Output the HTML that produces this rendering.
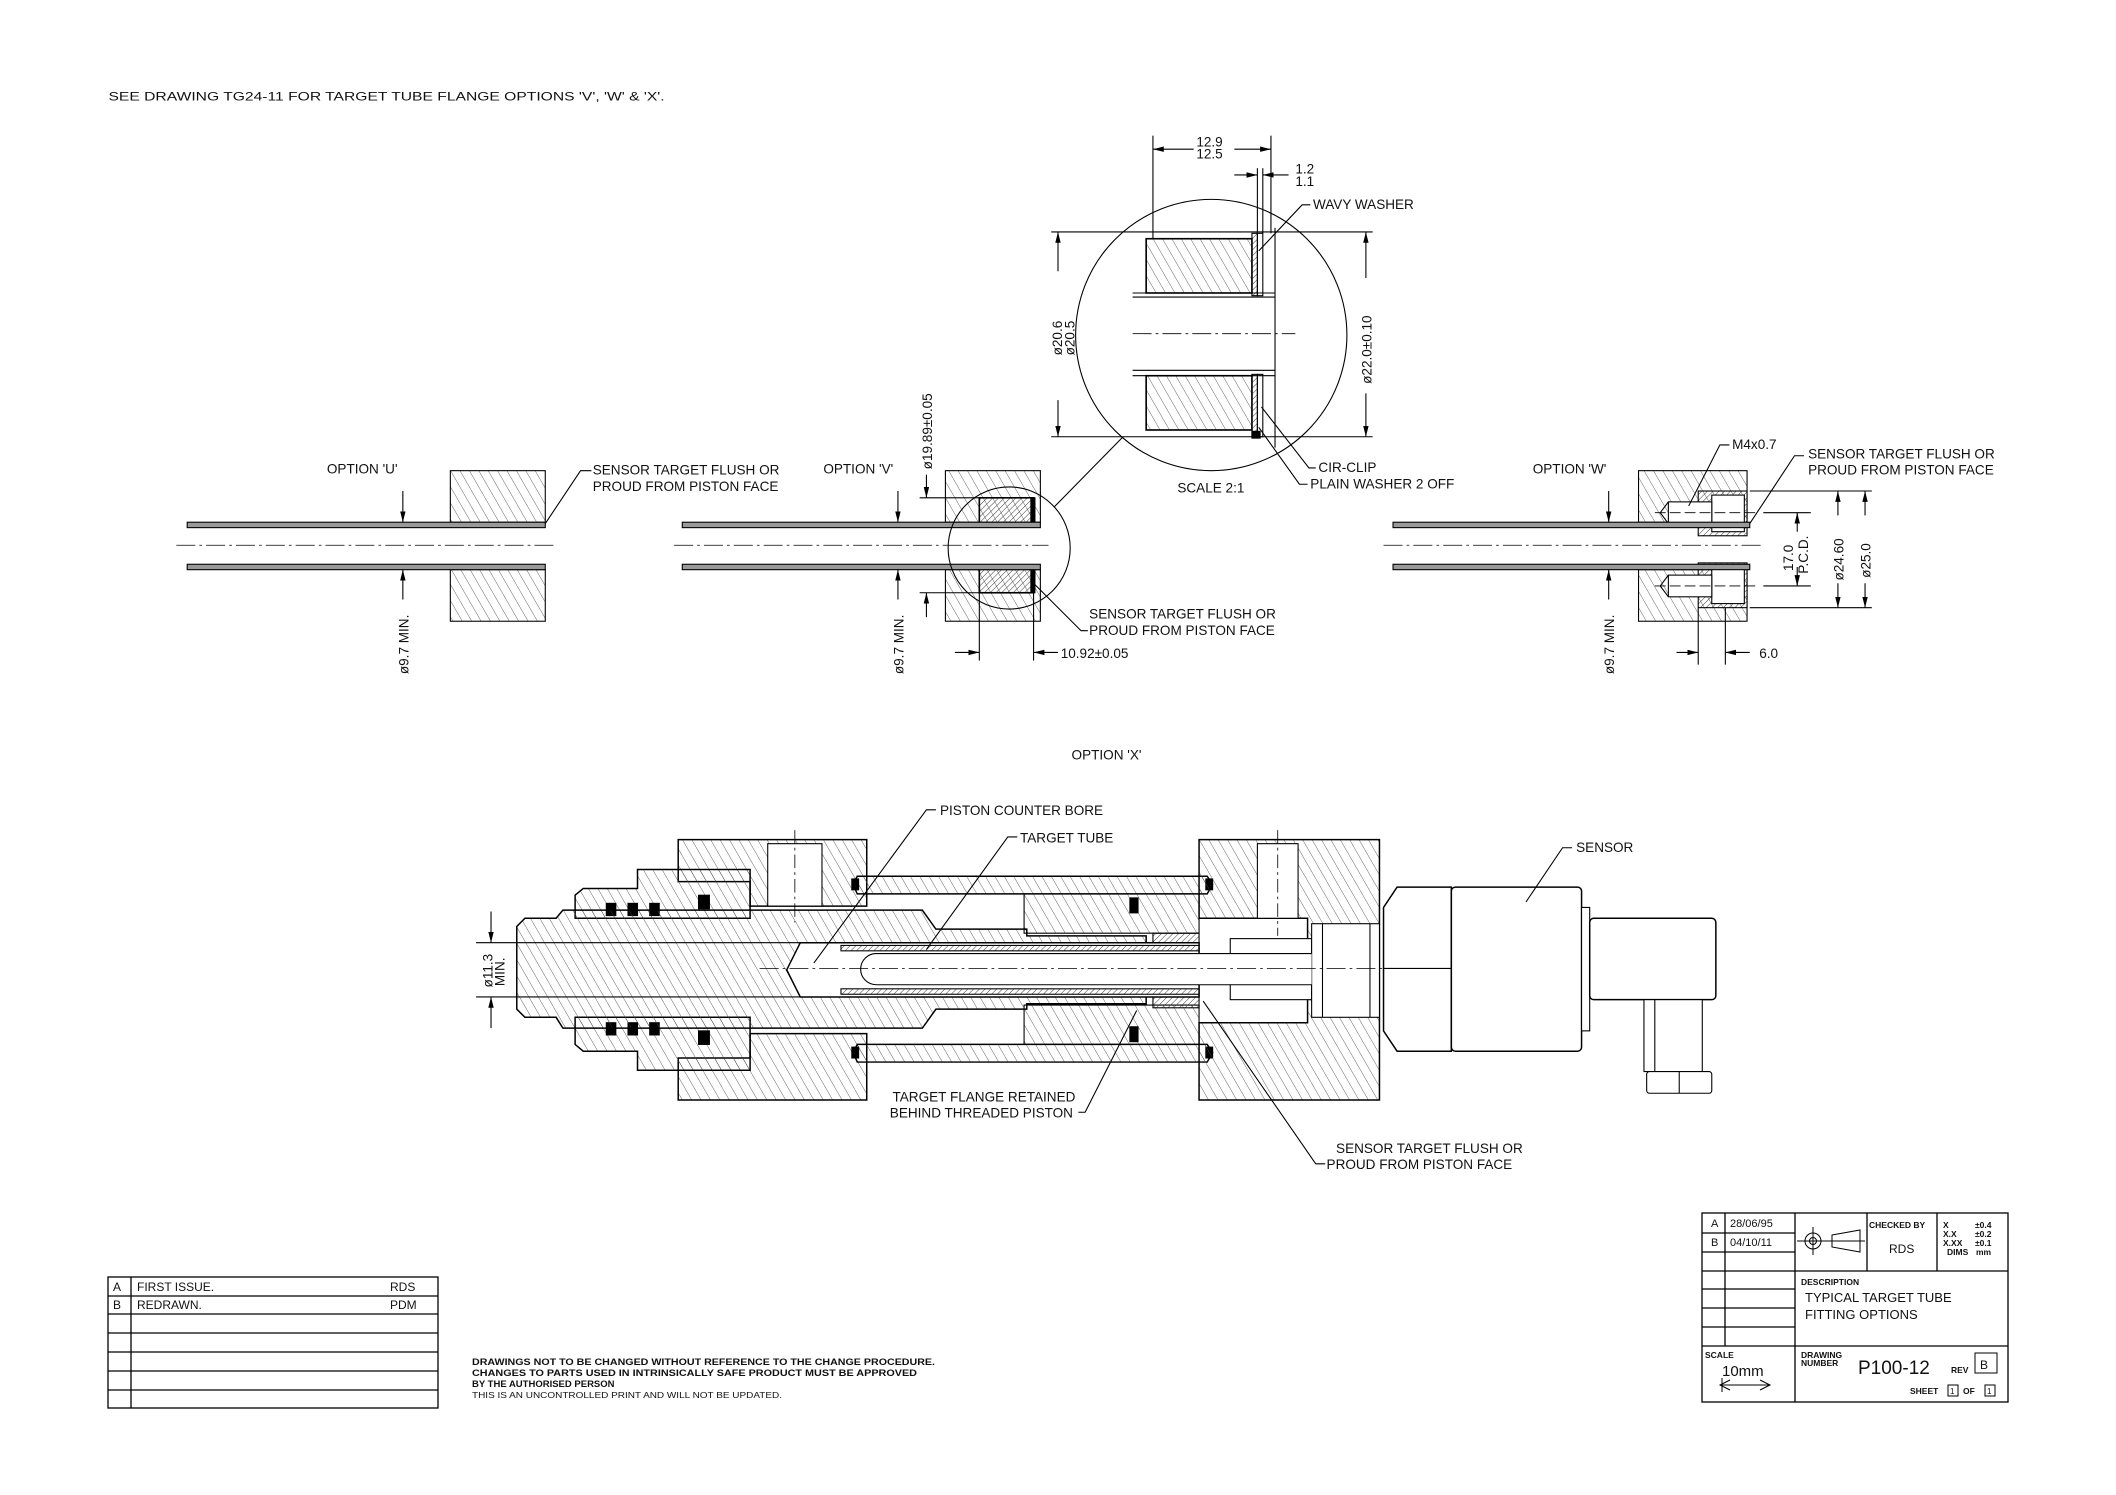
<!DOCTYPE html>
<html><head><meta charset="utf-8"><style>
html,body{margin:0;padding:0;background:#fff;}
svg{display:block;}
text{font-family:"Liberation Sans Narrow","Liberation Sans",sans-serif;fill:#111;}
</style></head><body>
<svg width="2116" height="1495" viewBox="0 0 2116 1495" xmlns="http://www.w3.org/2000/svg">
<defs>
<pattern id="h1" patternUnits="userSpaceOnUse" width="6" height="6" patternTransform="rotate(-30)"><line x1="0" y1="0" x2="0" y2="6" stroke="#444" stroke-width="0.6"/></pattern>
<pattern id="h2" patternUnits="userSpaceOnUse" width="3" height="3" patternTransform="rotate(45)"><line x1="0" y1="0" x2="0" y2="3" stroke="#333" stroke-width="0.7"/></pattern>
<marker id="ar" markerWidth="8" markerHeight="6" refX="8" refY="3" orient="auto" markerUnits="userSpaceOnUse"><path d="M0,1 L8,3 L0,5 z" fill="#000"/></marker>
</defs>
<rect width="2116" height="1495" fill="#fff"/>
<g transform="scale(1.3564)" stroke="#000" fill="none" stroke-width="0.8">
<text x="80" y="74" font-size="9" stroke="none" textLength="410" lengthAdjust="spacingAndGlyphs">SEE DRAWING TG24-11 FOR TARGET TUBE FLANGE OPTIONS 'V', 'W' &amp; 'X'.</text>

<!-- OPTION U -->
<g>
<rect x="332" y="347" width="70" height="38" fill="url(#h1)"/>
<rect x="332" y="420" width="70" height="38" fill="url(#h1)"/>
<rect x="138" y="385" width="264" height="4" fill="#999"/>
<rect x="138" y="416" width="264" height="4" fill="#999"/>
<line x1="130" y1="402" x2="408" y2="402" stroke-dasharray="14,3,2,3" stroke-width="0.6"/>
<line x1="297" y1="362" x2="297" y2="385" marker-end="url(#ar)"/>
<line x1="297" y1="442" x2="297" y2="420" marker-end="url(#ar)"/>
<polyline points="402,386 428,347 436,347"/>
<text x="241" y="349" font-size="10" stroke="none">OPTION 'U'</text>
<text x="437" y="350" font-size="10" stroke="none">SENSOR TARGET FLUSH OR</text>
<text x="437" y="362" font-size="10" stroke="none">PROUD FROM PISTON FACE</text>
<text transform="translate(301,497) rotate(-90)" font-size="10" stroke="none">ø9.7 MIN.</text>
</g>

<!-- OPTION V -->
<g>
<rect x="697" y="347" width="70" height="38" fill="url(#h1)"/>
<rect x="697" y="420" width="70" height="38" fill="url(#h1)"/>
<rect x="722" y="367" width="40" height="21" fill="url(#h2)" stroke-width="1.2"/>
<rect x="722" y="418" width="40" height="19" fill="url(#h2)" stroke-width="1.2"/>
<rect x="760" y="367" width="3" height="21" fill="#000"/>
<rect x="760" y="418" width="3" height="19" fill="#000"/>
<rect x="503" y="385" width="264" height="4" fill="#999"/>
<rect x="503" y="416" width="264" height="4" fill="#999"/>
<line x1="497" y1="402" x2="773" y2="402" stroke-dasharray="14,3,2,3" stroke-width="0.6"/>
<circle cx="744" cy="404" r="45"/>
<line x1="777" y1="374" x2="828" y2="322"/>
<line x1="662" y1="362" x2="662" y2="385" marker-end="url(#ar)"/>
<line x1="662" y1="442" x2="662" y2="420" marker-end="url(#ar)"/>
<text transform="translate(666,497) rotate(-90)" font-size="10" stroke="none">ø9.7 MIN.</text>
<line x1="678" y1="367" x2="722" y2="367"/>
<line x1="678" y1="437" x2="722" y2="437"/>
<line x1="683" y1="350" x2="683" y2="367" marker-end="url(#ar)"/>
<line x1="683" y1="455" x2="683" y2="437" marker-end="url(#ar)"/>
<text transform="translate(687,346) rotate(-90)" font-size="10" stroke="none">ø19.89±0.05</text>
<line x1="722" y1="437" x2="722" y2="487"/>
<line x1="762" y1="437" x2="762" y2="487"/>
<line x1="704" y1="481" x2="722" y2="481" marker-end="url(#ar)"/>
<line x1="780" y1="481" x2="762" y2="481" marker-end="url(#ar)"/>
<text x="782" y="485" font-size="10" stroke="none">10.92±0.05</text>
<polyline points="762,430 797,465 802,465"/>
<text x="607" y="349" font-size="10" stroke="none">OPTION 'V'</text>
<text x="803" y="456" font-size="10" stroke="none">SENSOR TARGET FLUSH OR</text>
<text x="803" y="468" font-size="10" stroke="none">PROUD FROM PISTON FACE</text>
</g>

<!-- DETAIL -->
<g>
<circle cx="893" cy="247" r="100"/>
<rect x="845" y="176" width="78" height="40" fill="url(#h1)" stroke-width="1.2"/>
<rect x="845" y="277" width="78" height="40" fill="url(#h1)" stroke-width="1.2"/>
<rect x="923" y="172" width="4" height="46" fill="url(#h2)"/>
<rect x="927" y="172" width="4" height="46" fill="none"/>
<rect x="923" y="276" width="4" height="46" fill="url(#h2)"/>
<rect x="927" y="276" width="4" height="46" fill="none"/>
<rect x="923" y="318" width="6" height="5" fill="#000"/>
<line x1="835" y1="216" x2="940" y2="216"/><line x1="835" y1="219" x2="940" y2="219"/>
<line x1="835" y1="273" x2="940" y2="273"/><line x1="835" y1="277" x2="940" y2="277"/>
<line x1="940" y1="168" x2="940" y2="330"/>
<line x1="835" y1="246" x2="955" y2="246" stroke-dasharray="14,3,2,3" stroke-width="0.6"/>
<line x1="775" y1="171" x2="1012" y2="171"/><line x1="775" y1="322" x2="1012" y2="322"/>
<line x1="780" y1="200" x2="780" y2="171" marker-end="url(#ar)"/>
<line x1="780" y1="295" x2="780" y2="322" marker-end="url(#ar)"/>
<text transform="translate(783,262) rotate(-90)" font-size="10" stroke="none">ø20.6</text>
<text transform="translate(792,262) rotate(-90)" font-size="10" stroke="none">ø20.5</text>
<line x1="1007" y1="205" x2="1007" y2="171" marker-end="url(#ar)"/>
<line x1="1007" y1="290" x2="1007" y2="322" marker-end="url(#ar)"/>
<text transform="translate(1011,283) rotate(-90)" font-size="10" stroke="none">ø22.0±0.10</text>
<line x1="850" y1="100" x2="850" y2="176"/>
<line x1="937" y1="100" x2="937" y2="172"/>
<line x1="880" y1="110" x2="850" y2="110" marker-end="url(#ar)"/>
<line x1="910" y1="110" x2="937" y2="110" marker-end="url(#ar)"/>
<text x="882" y="108" font-size="10" stroke="none">12.9</text>
<text x="882" y="117" font-size="10" stroke="none">12.5</text>
<line x1="927" y1="124" x2="927" y2="172"/><line x1="931" y1="124" x2="931" y2="172"/>
<line x1="910" y1="129" x2="927" y2="129" marker-end="url(#ar)"/>
<line x1="950" y1="129" x2="931" y2="129" marker-end="url(#ar)"/>
<text x="955" y="128" font-size="10" stroke="none">1.2</text>
<text x="955" y="137" font-size="10" stroke="none">1.1</text>
<polyline points="928,185 960,151 966,151"/>
<polyline points="930,300 965,345 970,345"/>
<polyline points="928,315 958,357 964,357"/>
<text x="968" y="154" font-size="10" stroke="none">WAVY WASHER</text>
<text x="972" y="348" font-size="10" stroke="none">CIR-CLIP</text>
<text x="966" y="360" font-size="10" stroke="none">PLAIN WASHER 2 OFF</text>
<text x="868" y="363" font-size="10" stroke="none">SCALE 2:1</text>
</g>

<!-- OPTION W -->
<g>
<rect x="1208" y="347" width="80" height="38" fill="url(#h1)"/>
<rect x="1208" y="420" width="80" height="38" fill="url(#h1)"/>
<rect x="1252" y="362" width="36" height="33" fill="url(#h2)"/>
<rect x="1252" y="415" width="36" height="33" fill="url(#h2)"/>
<rect x="1262" y="365" width="24" height="27" fill="#fff"/>
<rect x="1262" y="418" width="24" height="27" fill="#fff"/>
<rect x="1230" y="370" width="32" height="16" fill="#fff"/>
<rect x="1230" y="424" width="32" height="16" fill="#fff"/>
<path d="M1230,370 L1224,378 L1230,386"/><path d="M1230,424 L1224,432 L1230,440"/>
<line x1="1220" y1="378" x2="1295" y2="378" stroke-dasharray="8,3" stroke-width="0.6"/>
<line x1="1220" y1="432" x2="1295" y2="432" stroke-dasharray="8,3" stroke-width="0.6"/>
<rect x="1027" y="385" width="263" height="4" fill="#999"/>
<rect x="1027" y="416" width="263" height="4" fill="#999"/>
<line x1="1020" y1="402" x2="1300" y2="402" stroke-dasharray="14,3,2,3" stroke-width="0.6"/>
<line x1="1290" y1="362" x2="1380" y2="362"/><line x1="1290" y1="448" x2="1380" y2="448"/>
<line x1="1300" y1="378" x2="1335" y2="378"/><line x1="1300" y1="432" x2="1335" y2="432"/>
<line x1="1325" y1="392" x2="1325" y2="378" marker-end="url(#ar)"/>
<line x1="1325" y1="418" x2="1325" y2="432" marker-end="url(#ar)"/>
<text transform="translate(1322,421) rotate(-90)" font-size="10" stroke="none">17.0</text>
<text transform="translate(1333,423) rotate(-90)" font-size="10" stroke="none">P.C.D.</text>
<line x1="1355" y1="380" x2="1355" y2="362" marker-end="url(#ar)"/>
<line x1="1355" y1="430" x2="1355" y2="448" marker-end="url(#ar)"/>
<text transform="translate(1359,428) rotate(-90)" font-size="10" stroke="none">ø24.60</text>
<line x1="1375" y1="380" x2="1375" y2="362" marker-end="url(#ar)"/>
<line x1="1375" y1="430" x2="1375" y2="448" marker-end="url(#ar)"/>
<text transform="translate(1379,426) rotate(-90)" font-size="10" stroke="none">ø25.0</text>
<line x1="1186" y1="362" x2="1186" y2="385" marker-end="url(#ar)"/>
<line x1="1186" y1="442" x2="1186" y2="420" marker-end="url(#ar)"/>
<text transform="translate(1190,497) rotate(-90)" font-size="10" stroke="none">ø9.7 MIN.</text>
<line x1="1252" y1="448" x2="1252" y2="490"/><line x1="1272" y1="448" x2="1272" y2="490"/>
<line x1="1236" y1="481" x2="1252" y2="481" marker-end="url(#ar)"/>
<line x1="1290" y1="481" x2="1272" y2="481" marker-end="url(#ar)"/>
<text x="1297" y="485" font-size="10" stroke="none">6.0</text>
<polyline points="1245,373 1268,328 1275,328"/>
<polyline points="1290,386 1323,336 1330,336"/>
<text x="1130" y="349" font-size="10" stroke="none">OPTION 'W'</text>
<text x="1277" y="331" font-size="10" stroke="none">M4x0.7</text>
<text x="1333" y="338" font-size="10" stroke="none">SENSOR TARGET FLUSH OR</text>
<text x="1333" y="350" font-size="10" stroke="none">PROUD FROM PISTON FACE</text>
</g>

<!-- OPTION X -->
<g>
<text x="790" y="560" font-size="10" stroke="none">OPTION 'X'</text>
<path d="M500,619 L639,619 L639,668 L553,668 L553,650 L500,650 Z" fill="url(#h1)" stroke-width="1.1"/>
<path d="M500,811 L639,811 L639,762 L553,762 L553,780 L500,780 Z" fill="url(#h1)" stroke-width="1.1"/>
<rect x="566" y="622" width="40" height="46" fill="#fff"/>
<line x1="586" y1="612" x2="586" y2="680" stroke-dasharray="10,3,2,3" stroke-width="0.6"/>
<path d="M424,660 L430,655 L470,655 L470,641 L553,641 L553,677 L424,677 Z" fill="url(#h1)" stroke-width="1.1"/>
<path d="M424,770 L430,775 L470,775 L470,789 L553,789 L553,750 L424,750 Z" fill="url(#h1)" stroke-width="1.1"/>
<rect x="447" y="666" width="7" height="9" fill="#000"/><rect x="463" y="666" width="7" height="9" fill="#000"/><rect x="479" y="666" width="7" height="9" fill="#000"/><rect x="515" y="660" width="8" height="10" fill="#000"/>
<rect x="447" y="754" width="7" height="9" fill="#000"/><rect x="463" y="754" width="7" height="9" fill="#000"/><rect x="479" y="754" width="7" height="9" fill="#000"/><rect x="515" y="760" width="8" height="10" fill="#000"/>
<path d="M632,646 L890,646 L894,652 L890,659 L632,659 L629,652 Z" fill="url(#h1)" stroke-width="1.1"/>
<path d="M632,770 L890,770 L894,776 L890,783 L632,783 L629,776 Z" fill="url(#h1)" stroke-width="1.1"/>
<rect x="628" y="648" width="5" height="8" fill="#000"/><rect x="889" y="648" width="5" height="8" fill="#000"/>
<rect x="628" y="772" width="5" height="8" fill="#000"/><rect x="889" y="772" width="5" height="8" fill="#000"/>
<path d="M755,659 L884,659 L884,688 L755,688 Z" fill="url(#h1)"/>
<path d="M755,770 L884,770 L884,741 L755,741 Z" fill="url(#h1)"/>
<rect x="833" y="662" width="6" height="11" fill="#000"/><rect x="833" y="757" width="6" height="11" fill="#000"/>
<path d="M884,619 L1017,619 L1017,811 L884,811 L884,754 L964,754 L964,677 L884,677 Z" fill="url(#h1)" stroke-width="1.1"/>
<rect x="927" y="622" width="30" height="55" fill="#fff"/>
<line x1="942" y1="612" x2="942" y2="690" stroke-dasharray="10,3,2,3" stroke-width="0.6"/>
<rect x="907" y="692" width="60" height="45" fill="#fff"/>
<rect x="967" y="681" width="50" height="69" fill="#fff"/>
<line x1="975" y1="681" x2="975" y2="750"/><line x1="1010" y1="681" x2="1010" y2="750"/>
<path d="M387,677 L410,677 L415,671 L680,671 L690,685 L757,685 L757,690 L845,690 L845,740 L757,740 L757,744 L690,744 L680,758 L415,758 L410,750 L387,750 L381,744 L381,683 Z" fill="url(#h1)" stroke-width="1.1"/>
<rect x="850" y="688" width="34" height="55" fill="url(#h2)"/>
<path d="M590,695 L884,695 L884,735 L590,735 L580,715 Z" fill="#fff" stroke-width="1.1"/>
<rect x="620" y="697" width="264" height="4" fill="url(#h2)"/>
<rect x="620" y="729" width="264" height="4" fill="url(#h2)"/>
<path d="M967,703 L646,703 A11.5,11.5 0 0 0 646,726 L967,726" fill="#fff"/>
<line x1="560" y1="714" x2="1135" y2="714" stroke-dasharray="14,3,2,3" stroke-width="0.6"/>
<line x1="351" y1="695" x2="590" y2="695"/><line x1="351" y1="735" x2="590" y2="735"/>
<line x1="362" y1="672" x2="362" y2="695" marker-end="url(#ar)"/>
<line x1="362" y1="758" x2="362" y2="735" marker-end="url(#ar)"/>
<text transform="translate(363,728) rotate(-90)" font-size="10" stroke="none">ø11.3</text>
<text transform="translate(372,727) rotate(-90)" font-size="10" stroke="none">MIN.</text>
<path d="M1030,654 L1070,654 L1070,775 L1030,775 L1020,760 L1020,669 Z" fill="#fff" stroke-width="1.1"/>
<line x1="1020" y1="714" x2="1070" y2="714"/>
<rect x="1070" y="654" width="96" height="121" rx="3" fill="#fff" stroke-width="1.1"/>
<rect x="1166" y="669" width="6" height="91" fill="#fff"/>
<rect x="1172" y="677" width="93" height="60" rx="3" fill="#fff" stroke-width="1.1"/>
<rect x="1212" y="737" width="43" height="53" fill="#fff"/>
<line x1="1220" y1="737" x2="1220" y2="790"/>
<rect x="1214" y="790" width="48" height="16" rx="2" fill="#fff"/>
<line x1="1238" y1="790" x2="1238" y2="806"/>
<polyline points="600,710 683,597 690,597"/>
<polyline points="683,700 743,617 750,617"/>
<polyline points="1125,665 1152,625 1159,625"/>
<polyline points="795,820 800,820 838,745"/>
<polyline points="887,738 970,858 977,858"/>
<text x="693" y="601" font-size="10" stroke="none">PISTON COUNTER BORE</text>
<text x="752" y="621" font-size="10" stroke="none">TARGET TUBE</text>
<text x="1162" y="628" font-size="10" stroke="none">SENSOR</text>
<text x="658" y="812" font-size="10" stroke="none">TARGET FLANGE RETAINED</text>
<text x="656" y="824" font-size="10" stroke="none">BEHIND THREADED PISTON</text>
<text x="985" y="850" font-size="10" stroke="none">SENSOR TARGET FLUSH OR</text>
<text x="978" y="862" font-size="10" stroke="none">PROUD FROM PISTON FACE</text>
</g>
</g>

<g stroke="#000" fill="none" stroke-width="1.3">
<rect x="108" y="1277" width="330" height="131"/>
<line x1="131" y1="1277" x2="131" y2="1408"/>
<line x1="108" y1="1296" x2="438" y2="1296"/><line x1="108" y1="1314" x2="438" y2="1314"/>
<line x1="108" y1="1333" x2="438" y2="1333"/><line x1="108" y1="1352" x2="438" y2="1352"/>
<line x1="108" y1="1371" x2="438" y2="1371"/><line x1="108" y1="1390" x2="438" y2="1390"/>
</g>
<g font-size="12" style="font-family:'Liberation Sans',sans-serif">
<text x="113" y="1291">A</text><text x="137" y="1291">FIRST ISSUE.</text><text x="390" y="1291">RDS</text>
<text x="113" y="1309">B</text><text x="137" y="1309">REDRAWN.</text><text x="390" y="1309">PDM</text>
</g>
<g font-size="9.5" font-weight="bold">
<text x="472" y="1365" textLength="463" lengthAdjust="spacingAndGlyphs">DRAWINGS NOT TO BE CHANGED WITHOUT REFERENCE TO THE CHANGE PROCEDURE.</text>
<text x="472" y="1376" textLength="445" lengthAdjust="spacingAndGlyphs">CHANGES TO PARTS USED IN INTRINSICALLY SAFE PRODUCT MUST BE APPROVED</text>
<text x="472" y="1387">BY THE AUTHORISED PERSON</text>
</g>
<text x="472" y="1398" font-size="8.5" textLength="310" lengthAdjust="spacingAndGlyphs">THIS IS AN UNCONTROLLED PRINT AND WILL NOT BE UPDATED.</text>

<g stroke="#000" fill="none" stroke-width="1.3">
<rect x="1702" y="1213" width="306" height="189"/>
<line x1="1725" y1="1213" x2="1725" y2="1346"/>
<line x1="1795" y1="1213" x2="1795" y2="1402"/>
<line x1="1867" y1="1213" x2="1867" y2="1271"/>
<line x1="1937" y1="1213" x2="1937" y2="1271"/>
<line x1="1702" y1="1233" x2="1795" y2="1233"/><line x1="1702" y1="1252" x2="1795" y2="1252"/>
<line x1="1702" y1="1271" x2="2008" y2="1271"/>
<line x1="1702" y1="1289" x2="1795" y2="1289"/><line x1="1702" y1="1308" x2="1795" y2="1308"/><line x1="1702" y1="1327" x2="1795" y2="1327"/>
<line x1="1702" y1="1346" x2="2008" y2="1346"/>
<circle cx="1813" cy="1241" r="8" stroke-width="1"/><circle cx="1813" cy="1241" r="3.5" stroke-width="1"/>
<line x1="1797" y1="1241" x2="1865" y2="1241" stroke-width="1"/><line x1="1813" y1="1227" x2="1813" y2="1255" stroke-width="1"/>
<path d="M1832,1235 L1860,1230 L1860,1252 L1832,1247 Z" stroke-width="1"/>
<rect x="1975" y="1353" width="22" height="20" stroke-width="1"/>
<rect x="1948" y="1385" width="10" height="11" stroke-width="1"/>
<rect x="1985" y="1385" width="10" height="11" stroke-width="1"/>
<line x1="1720" y1="1385" x2="1770" y2="1385" stroke-width="1"/>
<path d="M1730,1380 L1720,1385 L1730,1390 M1760,1380 L1770,1385 L1760,1390" stroke-width="1"/>
<line x1="1722" y1="1378" x2="1722" y2="1392" stroke-width="1"/>
</g>
<g style="font-family:'Liberation Sans',sans-serif">
<text x="1711" y="1227" font-size="11">A</text><text x="1730" y="1227" font-size="11">28/06/95</text>
<text x="1711" y="1246" font-size="11">B</text><text x="1730" y="1246" font-size="11">04/10/11</text>
<text x="1869" y="1228" font-size="8.5" font-weight="bold">CHECKED BY</text>
<text x="1889" y="1253" font-size="12">RDS</text>
<g font-size="8.5" font-weight="bold">
<text x="1943" y="1228">X</text><text x="1975" y="1228">±0.4</text>
<text x="1943" y="1237">X.X</text><text x="1975" y="1237">±0.2</text>
<text x="1943" y="1246">X.XX</text><text x="1975" y="1246">±0.1</text>
<text x="1947" y="1255">DIMS</text><text x="1976" y="1255">mm</text>
<text x="1801" y="1285">DESCRIPTION</text>
<text x="1801" y="1358">DRAWING</text><text x="1801" y="1366">NUMBER</text>
<text x="1705" y="1358">SCALE</text>
<text x="1951" y="1373">REV</text>
<text x="1910" y="1394">SHEET</text><text x="1963" y="1394">OF</text>
</g>
<text x="1805" y="1302" font-size="13">TYPICAL TARGET TUBE</text>
<text x="1805" y="1319" font-size="13">FITTING OPTIONS</text>
<text x="1722" y="1376" font-size="15">10mm</text>
<text x="1858" y="1374" font-size="19">P100-12</text>
<text x="1980" y="1369" font-size="12">B</text>
<text x="1950" y="1394" font-size="8">1</text><text x="1987" y="1394" font-size="8">1</text>
</g>
</svg>
</body></html>
